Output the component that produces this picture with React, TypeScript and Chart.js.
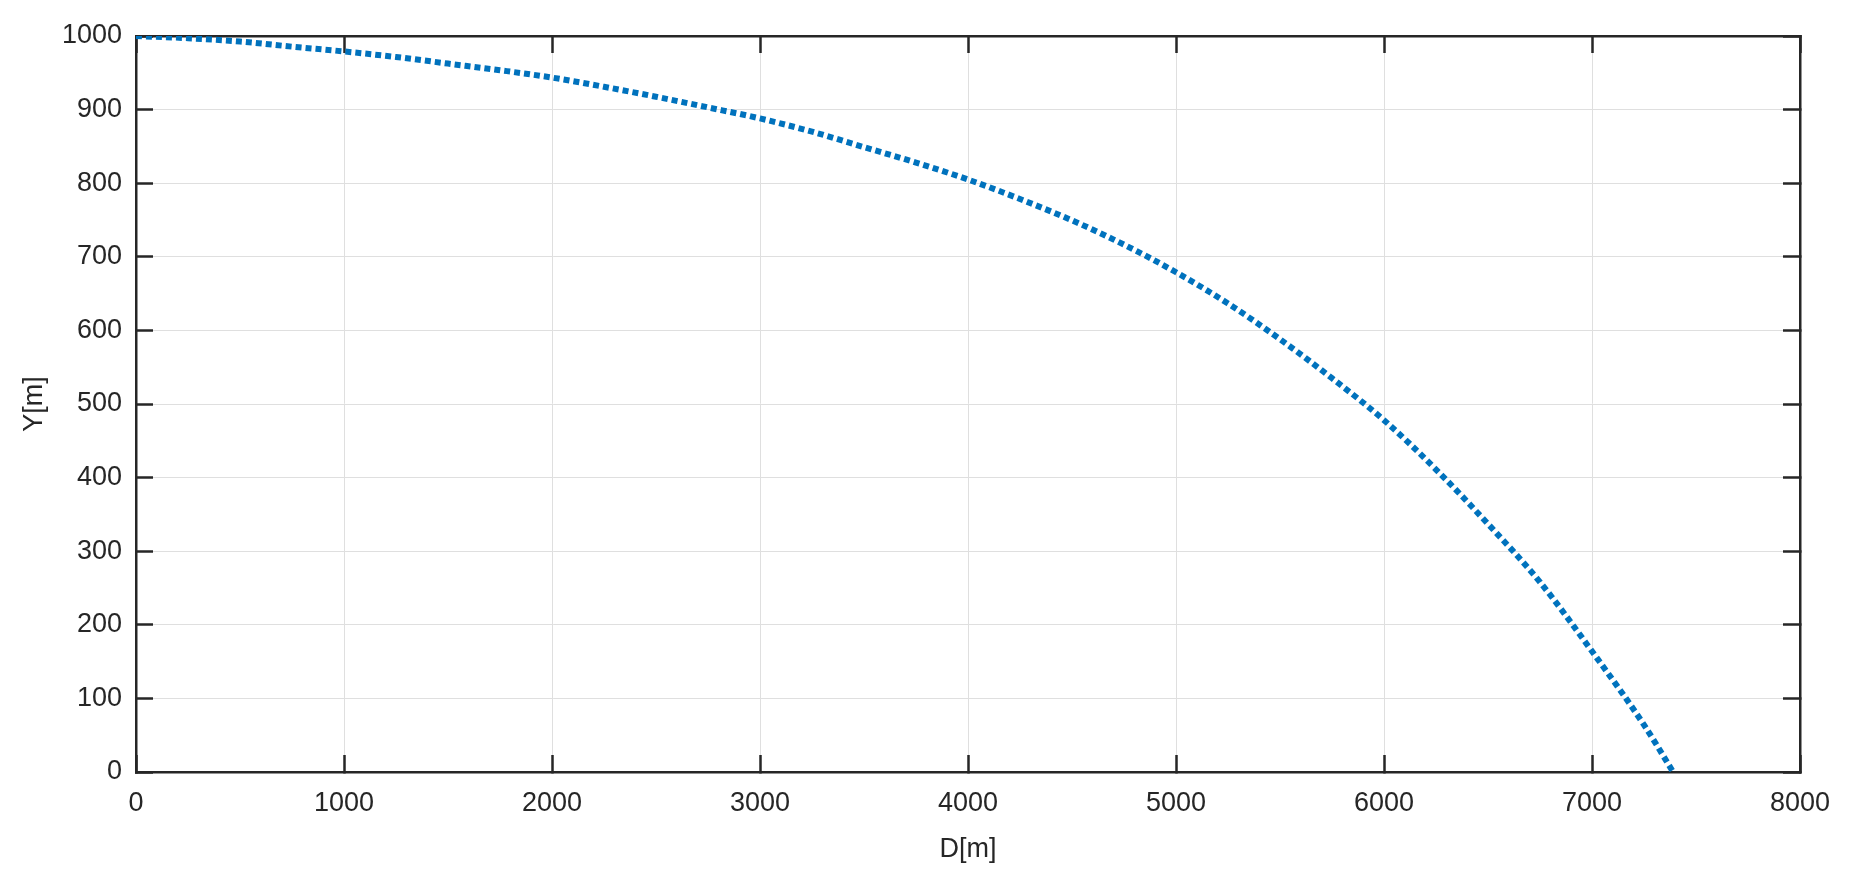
import React, { useEffect, useRef } from "react";
import { Chart, registerables, ChartConfiguration } from "chart.js";

Chart.register(...registerables);

// horizontal distance D [m]
const distances = [
  0, 250, 500, 750, 1000, 1250, 1500, 1750, 2000, 2250, 2500, 2750, 3000,
  3250, 3500, 3750, 4000, 4250, 4500, 4750, 5000, 5250, 5500, 5750, 6000,
  6250, 6500, 6750, 7000, 7250, 7390,
];
// height Y [m]
const heights = [
  1000, 997, 992.5, 985.5, 979, 971.5, 962.5, 953.5, 943.5, 931, 917.5, 903,
  888, 870, 849, 828, 805, 778.5, 749.5, 716.5, 679, 636.5, 588, 535, 478,
  411, 337, 258, 164, 64, 0,
];

const xTickValues = [0, 1000, 2000, 3000, 4000, 5000, 6000, 7000, 8000];
const yTickValues = [0, 100, 200, 300, 400, 500, 600, 700, 800, 900, 1000];

const xTitle = "D[m]";
const yTitle = "Y[m]";

const TEXT = "#262626";
const GRID = "#dfdfdf";
const FONT = { family: "'Liberation Sans', Arial, Helvetica, sans-serif", size: 27 };

function TrajectoryChart() {
  const chartRef = useRef<HTMLCanvasElement | null>(null);
  const chartInstance = useRef<Chart | null>(null);

  useEffect(() => {
    document.body.style.margin = "0";
    if (!chartRef.current) return;
    if (chartInstance.current) chartInstance.current.destroy();

    const ctx = chartRef.current.getContext("2d");
    if (!ctx) return;

    const points = distances.map((d, i) => ({ x: d, y: heights[i] }));
    const setX = (s: any) => {
      s.ticks = xTickValues.map((v) => ({ value: v }));
    };
    const setY = (s: any) => {
      s.ticks = yTickValues.map((v) => ({ value: v }));
    };
    const plain = (v: any) => String(v);

    // ticks point inward like MATLAB (negative tick length)
    const tickGrid = {
      color: GRID,
      lineWidth: 1,
      drawTicks: true,
      tickLength: -17,
      tickColor: TEXT,
      tickWidth: 2.5,
    };
    const border = { display: true, color: TEXT, width: 2.5 };

    const config: ChartConfiguration = {
      type: "line",
      data: {
        datasets: [
          {
            data: points,
            borderColor: "#0072BD",
            borderWidth: 6,
            borderDash: [6, 4],
            borderCapStyle: "butt",
            pointRadius: 0,
            fill: false,
            cubicInterpolationMode: "monotone",
          },
        ],
      },
      options: {
        responsive: true,
        maintainAspectRatio: false,
        animation: false,
        layout: { padding: 0 },
        plugins: {
          legend: { display: false },
          tooltip: { enabled: false },
        },
        scales: {
          x: {
            type: "linear",
            position: "bottom",
            min: 0,
            max: 8000,
            afterBuildTicks: setX,
            afterFit: (s: any) => {
              s.height = 116;
              s.paddingLeft = 0;
              s.paddingRight = 0;
            },
            grid: tickGrid,
            border,
            ticks: {
              padding: 32,
              color: TEXT,
              font: FONT,
              maxRotation: 0,
              autoSkip: false,
              callback: plain,
            },
            title: {
              display: true,
              text: xTitle,
              color: TEXT,
              font: FONT,
              padding: { top: 0, bottom: 22 },
            },
          },
          y: {
            type: "linear",
            position: "left",
            min: 0,
            max: 1000,
            afterBuildTicks: setY,
            afterFit: (s: any) => {
              s.width = 136;
              s.paddingTop = 0;
              s.paddingBottom = 0;
            },
            grid: tickGrid,
            border,
            ticks: {
              padding: 31,
              color: TEXT,
              font: FONT,
              autoSkip: false,
              callback: plain,
            },
            title: {
              display: true,
              text: yTitle,
              color: TEXT,
              font: FONT,
              padding: { top: 18, bottom: 0 },
            },
          },
          x2: {
            type: "linear",
            position: "top",
            min: 0,
            max: 8000,
            afterBuildTicks: setX,
            afterFit: (s: any) => {
              s.height = 36;
            },
            grid: { ...tickGrid, drawOnChartArea: false },
            border,
            ticks: { display: false },
          },
          y2: {
            type: "linear",
            position: "right",
            min: 0,
            max: 1000,
            afterBuildTicks: setY,
            afterFit: (s: any) => {
              s.width = 67;
            },
            grid: { ...tickGrid, drawOnChartArea: false },
            border,
            ticks: { display: false },
          },
        },
      },
    };

    chartInstance.current = new Chart(ctx, config);

    return () => {
      if (chartInstance.current) {
        chartInstance.current.destroy();
        chartInstance.current = null;
      }
    };
  }, []);

  return (
    <div style={{ width: 1867, height: 888, position: "relative", background: "#fff" }}>
      <canvas ref={chartRef} />
    </div>
  );
}

export default function App() {
  return <TrajectoryChart />;
}
